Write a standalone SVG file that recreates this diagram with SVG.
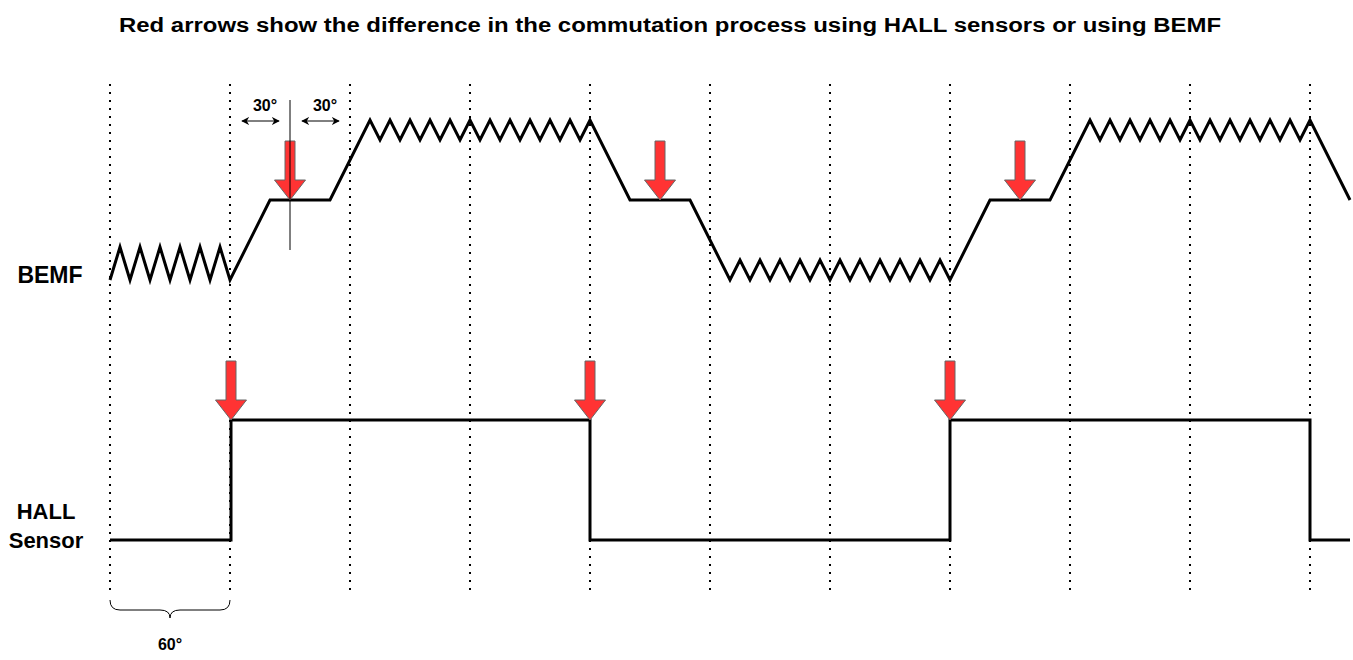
<svg xmlns="http://www.w3.org/2000/svg" width="1353" height="660" viewBox="0 0 1353 660">
<defs>
<style>
.t{font-family:"Liberation Sans",Arial,sans-serif;font-weight:bold;fill:#000}
.grid{stroke:#000;stroke-width:2;stroke-dasharray:2 6}
.wave{fill:none;stroke:#000;stroke-width:3;stroke-linejoin:miter}
.red{fill:#ff3333;stroke:#666;stroke-width:1}
.thin{fill:none;stroke:#000;stroke-width:1}
</style>
<marker id="ah" viewBox="0 0 10 10" refX="9" refY="5" markerWidth="8" markerHeight="8" orient="auto-start-reverse" markerUnits="userSpaceOnUse">
<path d="M0,0 L10,5 L0,10 L3,5 Z" fill="#000"/>
</marker>
</defs>
<rect width="1353" height="660" fill="#fff"/>
<text class="t" x="119" y="32" font-size="20" textLength="1102" lengthAdjust="spacingAndGlyphs">Red arrows show the difference in the commutation process using HALL sensors or using BEMF</text>
<g id="grid">
<line class="grid" x1="110" y1="84" x2="110" y2="592"/>
<line class="grid" x1="230" y1="84" x2="230" y2="592"/>
<line class="grid" x1="350" y1="84" x2="350" y2="592"/>
<line class="grid" x1="470" y1="84" x2="470" y2="592"/>
<line class="grid" x1="590" y1="84" x2="590" y2="592"/>
<line class="grid" x1="710" y1="84" x2="710" y2="592"/>
<line class="grid" x1="830" y1="84" x2="830" y2="592"/>
<line class="grid" x1="950" y1="84" x2="950" y2="592"/>
<line class="grid" x1="1070" y1="84" x2="1070" y2="592"/>
<line class="grid" x1="1190" y1="84" x2="1190" y2="592"/>
<line class="grid" x1="1310" y1="84" x2="1310" y2="592"/>
</g>
<g id="label-bemf"><text class="t" x="50" y="283" font-size="23" text-anchor="middle">BEMF</text></g>
<g id="label-hall"><text class="t" x="46" y="519" font-size="22" text-anchor="middle">HALL</text><text class="t" x="46" y="548" font-size="22" text-anchor="middle">Sensor</text></g>
<g id="bemf-wave">
<polyline class="wave" points="110,280 120,247 130,280 140,247 150,280 160,247 170,280 180,247 190,280 200,247 210,280 220,247 230,280 270,200 330,200 370,120 380,140 390,120 400,140 410,120 420,140 430,120 440,140 450,120 460,140 470,120 480,140 490,120 500,140 510,120 520,140 530,120 540,140 550,120 560,140 570,120 580,140 590,120 630,200 690,200 730,280 740,260 750,280 760,260 770,280 780,260 790,280 800,260 810,280 820,260 830,280 840,260 850,280 860,260 870,280 880,260 890,280 900,260 910,280 920,260 930,280 940,260 950,280 990,200 1050,200 1090,120 1100,140 1110,120 1120,140 1130,120 1140,140 1150,120 1160,140 1170,120 1180,140 1190,120 1200,140 1210,120 1220,140 1230,120 1240,140 1250,120 1260,140 1270,120 1280,140 1290,120 1300,140 1310,120 1350,200"/>
</g>
<g id="hall-wave">
<polyline class="wave" points="110,540 231,540 231,420 590,420 590,540 950,540 950,420 1310,420 1310,540 1350,540"/>
</g>
<g id="arrows-bemf">
<polygon class="red" points="285,141 295,141 295,180 305.5,180 290,200 274.5,180 285,180"/>
<polygon class="red" points="655,141 665,141 665,180 675.5,180 660,200 644.5,180 655,180"/>
<polygon class="red" points="1015,141 1025,141 1025,180 1035.5,180 1020,200 1004.5,180 1015,180"/>
</g>
<g id="arrows-hall">
<polygon class="red" points="226,361 236,361 236,400 246.5,400 231,420 215.5,400 226,400"/>
<polygon class="red" points="585,361 595,361 595,400 605.5,400 590,420 574.5,400 585,400"/>
<polygon class="red" points="945,361 955,361 955,400 965.5,400 950,420 934.5,400 945,400"/>
</g>
<g id="angle-30">
<line class="thin" x1="290" y1="100" x2="290" y2="250"/>
<line class="thin" x1="242" y1="121" x2="279" y2="121" marker-start="url(#ah)" marker-end="url(#ah)"/>
<line class="thin" x1="302" y1="121" x2="339" y2="121" marker-start="url(#ah)" marker-end="url(#ah)"/>
<text class="t" x="265" y="111" font-size="16" text-anchor="middle">30°</text>
<text class="t" x="325" y="111" font-size="16" text-anchor="middle">30°</text>
</g>
<g id="angle-60">
<path class="thin" d="M110,600 Q110,610 120,610 L160,610 Q170,610 170,618 Q170,610 180,610 L220,610 Q230,610 230,600"/>
<text class="t" x="170" y="650" font-size="16" text-anchor="middle">60°</text>
</g>
</svg>
